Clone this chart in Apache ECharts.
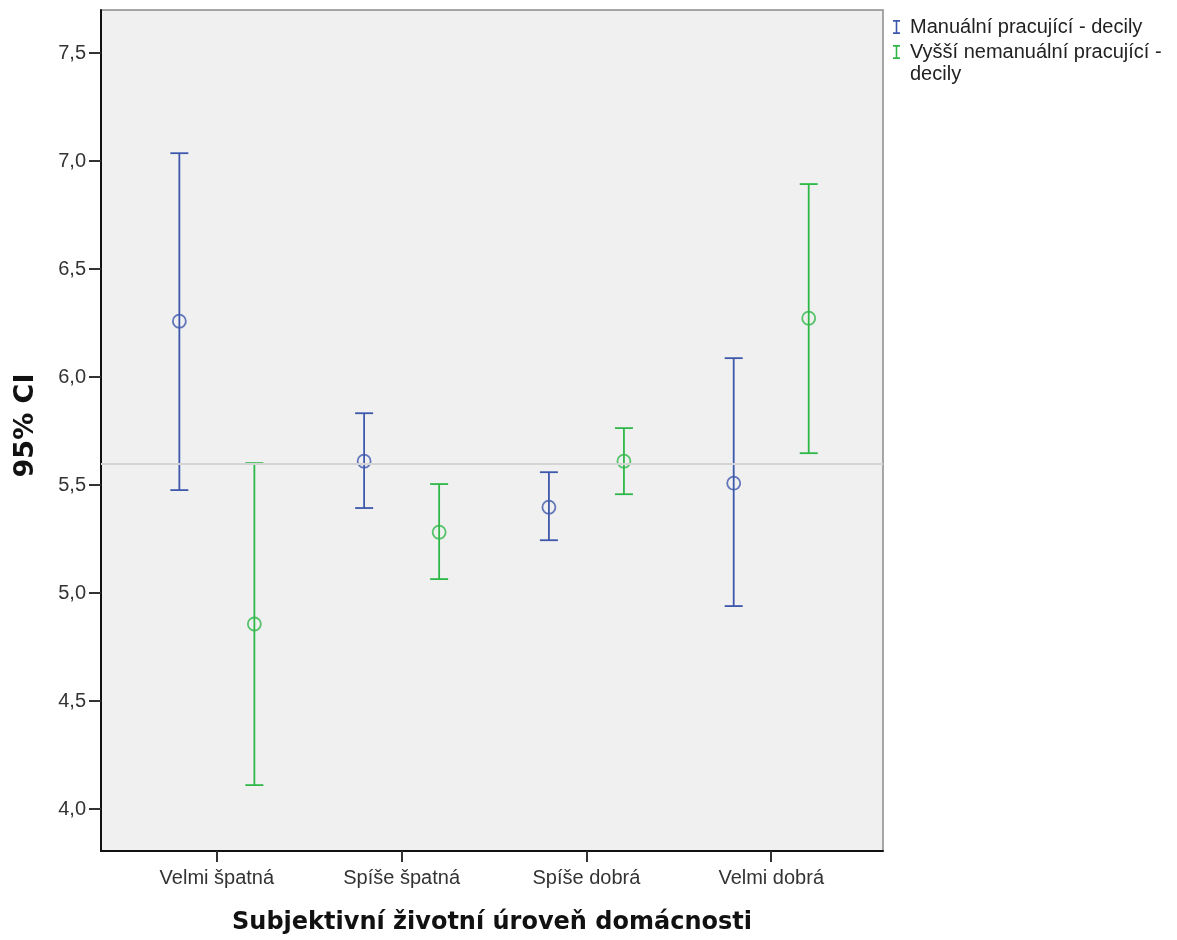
<!DOCTYPE html>
<html><head><meta charset="utf-8">
<script src="https://cdn.jsdelivr.net/npm/echarts@6/dist/echarts.min.js"></script>
<style>html,body{margin:0;padding:0;background:#fff}#c{width:1177px;height:940px}</style>
</head><body><div id="c"></div>
<script>
const categories = ['Velmi špatná', 'Spíše špatná', 'Spíše dobrá', 'Velmi dobrá'];
const seriesNames = ['Manuální pracující - decily', 'Vyšší nemanuální pracující - decily'];
const manualMean  = [6.259, 5.611, 5.398, 5.509];
const manualLow   = [5.477, 5.394, 5.245, 4.940];
const manualHigh  = [7.037, 5.833, 5.560, 6.088];
const upperMean   = [4.857, 5.282, 5.611, 6.273];
const upperLow    = [4.111, 5.065, 5.458, 5.648];
const upperHigh   = [5.602, 5.505, 5.764, 6.894];
const yTicks = [4.0, 4.5, 5.0, 5.5, 6.0, 6.5, 7.0, 7.5];
const refLine = 5.60;

const colors = ['#3E58AC', '#2EB848'];
const offsets = [-0.203, 0.203];
const FONT = 'Liberation Sans, Arial, sans-serif';
const BFONT = 'DejaVu Sans, Verdana, sans-serif';

function barData(low, high, mean, off) {
  return categories.map((c, i) => [i + off, low[i], high[i], mean[i]]);
}
function errSeries(name, data, color) {
  return {
    type: 'custom', name: name, data: data, z: 3,
    encode: { x: 0, y: [1, 2] },
    renderItem: function (params, api) {
      const x = api.value(0);
      const lo = api.coord([x, api.value(1)]);
      const hi = api.coord([x, api.value(2)]);
      const w = 9;
      const st = { stroke: color, lineWidth: 1.8, fill: null };
      return { type: 'group', children: [
        { type: 'line', shape: { x1: lo[0], y1: lo[1], x2: hi[0], y2: hi[1] }, style: st },
        { type: 'line', shape: { x1: lo[0] - w, y1: lo[1], x2: lo[0] + w, y2: lo[1] }, style: st },
        { type: 'line', shape: { x1: hi[0] - w, y1: hi[1], x2: hi[0] + w, y2: hi[1] }, style: st }
      ]};
    }
  };
}
function meanSeries(name, mean, off, color) {
  return {
    type: 'scatter', name: name, data: mean.map((m, i) => [i + off, m]),
    symbol: 'circle', symbolSize: 13, z: 4,
    itemStyle: { color: 'rgba(0,0,0,0)', borderColor: color, borderWidth: 1.8 },
    legendHoverLink: false
  };
}

// I-beam glyph (7 wide, 13 tall) with an empty point at x=12 to reserve space before the text
const iconPath = 'path://M12,6.5 L12,6.5 Z M0,0 L7,0 L7,1.6 L4.3,1.6 L4.3,11.4 L7,11.4 L7,13 L0,13 L0,11.4 L2.7,11.4 L2.7,1.6 L0,1.6 Z';

const chart = echarts.init(document.getElementById('c'), null, { renderer: 'canvas' });
chart.setOption({
  animation: false,
  backgroundColor: '#ffffff',
  grid: { left: 101, right: 294, top: 10, bottom: 88, show: true, backgroundColor: '#f0f0f0', borderColor: '#8a8a8a', borderWidth: 1.5 },
  legend: {
    orient: 'vertical', left: 888, top: 11, itemGap: -8, itemWidth: 12, itemHeight: 14,
    symbolKeepAspect: false, padding: 5,
    selectedMode: false,
    data: [
      { name: seriesNames[0], icon: iconPath, itemStyle: { color: colors[0], borderWidth: 0 } },
      { name: seriesNames[1], icon: iconPath, itemStyle: { color: colors[1], borderWidth: 0 } }
    ],
    formatter: function (n) {
      return n === seriesNames[1] ? '{a|Vyšší nemanuální pracující -}\n{b|decily}' : n;
    },
    textStyle: {
      fontFamily: FONT, fontSize: 20, color: '#222', lineHeight: 22,
      rich: {
        a: { fontFamily: FONT, fontSize: 20, color: '#222', lineHeight: 44 },
        b: { fontFamily: FONT, fontSize: 20, color: '#222', lineHeight: 0 }
      }
    }
  },
  xAxis: {
    type: 'value', min: -0.627, max: 3.605,
    splitLine: { show: false },
    axisLine: { show: true, onZero: false, lineStyle: { color: '#111', width: 2 } },
    axisTick: { show: true, length: 11, lineStyle: { color: '#333', width: 2 }, customValues: [0, 1, 2, 3] },
    axisLabel: { customValues: [0, 1, 2, 3], formatter: v => categories[Math.round(v)], fontFamily: FONT, fontSize: 20, color: '#333', margin: 17 },
    name: 'Subjektivní životní úroveň domácnosti', nameLocation: 'middle', nameGap: 60,
    nameTextStyle: { fontFamily: BFONT, fontSize: 24, fontWeight: 'bold', color: '#111' }
  },
  yAxis: {
    type: 'value', min: 3.806, max: 7.70,
    splitLine: { show: false },
    axisLine: { show: true, onZero: false, lineStyle: { color: '#111', width: 2 } },
    axisTick: { show: true, length: 12, lineStyle: { color: '#333', width: 2 }, customValues: yTicks },
    axisLabel: { customValues: yTicks, formatter: v => v.toFixed(1).replace('.', ','), fontFamily: FONT, fontSize: 20, color: '#333', margin: 15 },
    name: '95% CI', nameLocation: 'middle', nameGap: 62, nameRotate: 90,
    nameTextStyle: { fontFamily: BFONT, fontSize: 27, fontWeight: 'bold', color: '#111', padding: [0, 0, 0, 10] }
  },
  series: [
    Object.assign(errSeries(seriesNames[0], barData(manualLow, manualHigh, manualMean, offsets[0]), colors[0]), {
      markLine: { silent: true, symbol: 'none', label: { show: false }, lineStyle: { color: '#d4d4d4', width: 2, type: 'solid' }, data: [{ yAxis: refLine }] }
    }),
    errSeries(seriesNames[1], barData(upperLow, upperHigh, upperMean, offsets[1]), colors[1]),
    meanSeries(seriesNames[0], manualMean, offsets[0], colors[0]),
    meanSeries(seriesNames[1], upperMean, offsets[1], colors[1])
  ]
});
</script></body></html>
